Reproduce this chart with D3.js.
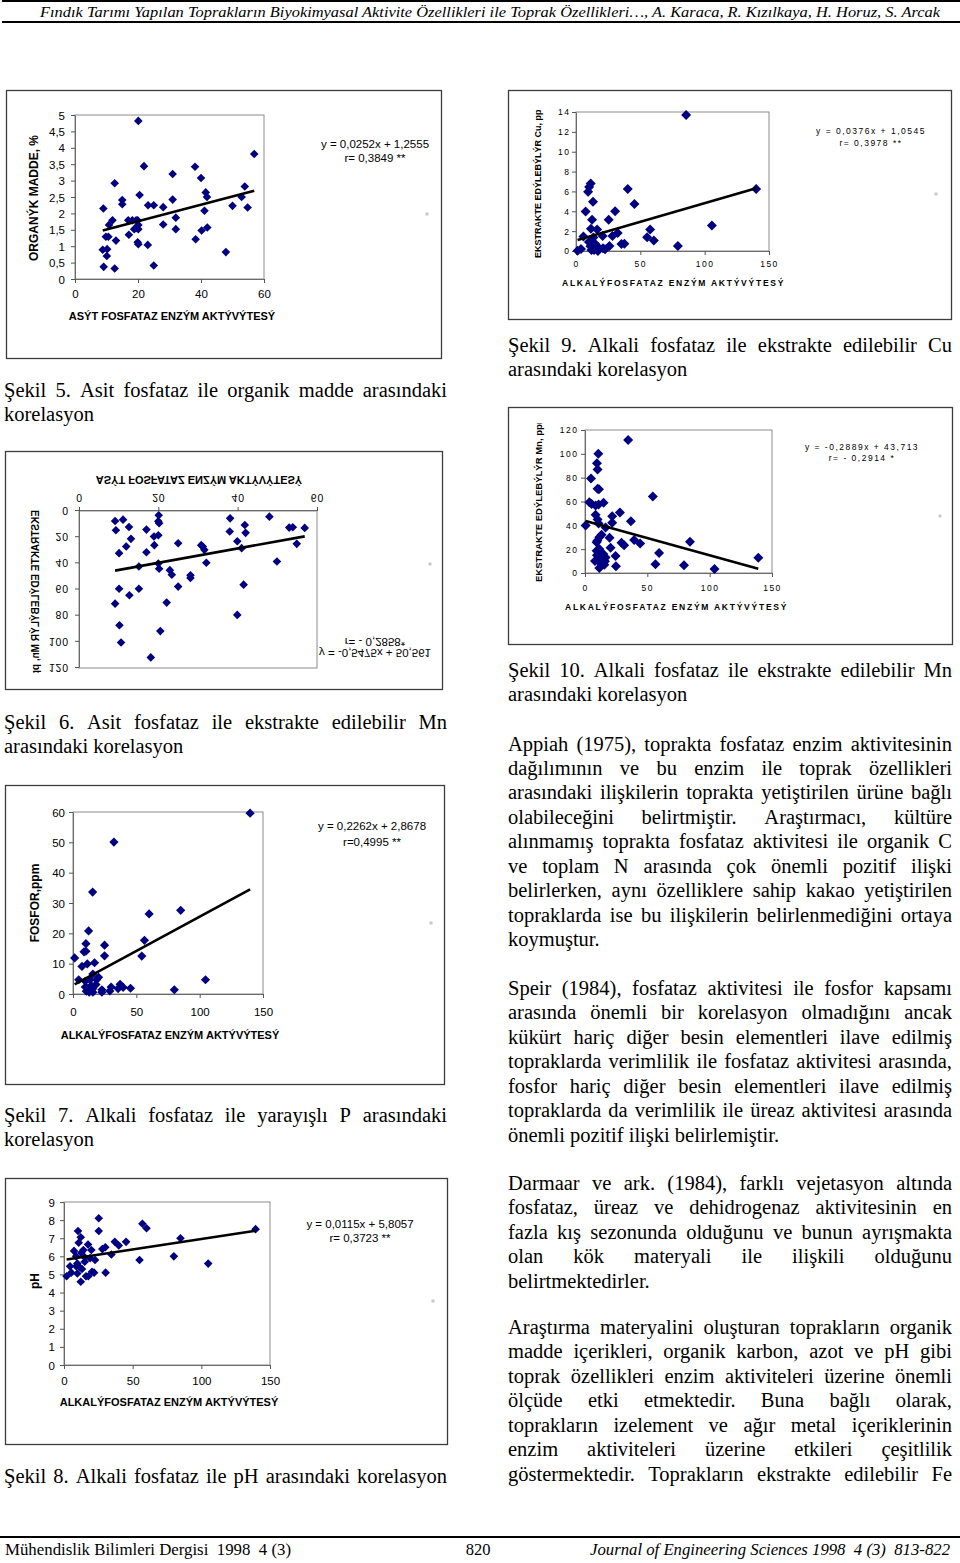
<!DOCTYPE html>
<html><head><meta charset="utf-8">
<script src="https://cdn.jsdelivr.net/npm/d3@7"></script>
<style>body{margin:0;background:#fff}svg{display:block}text{white-space:pre}</style>
</head><body>
<script>
// ---------------- DATA ----------------
const ticksAcidX = [0, 20, 40, 60];
const ticksAlkX = [0, 50, 100, 150];
const ticksOM = [0, 0.5, 1, 1.5, 2, 2.5, 3, 3.5, 4, 4.5, 5];
const labelsOM = ["0", "0,5", "1", "1,5", "2", "2,5", "3", "3,5", "4", "4,5", "5"];
const ticksCu = [0, 2, 4, 6, 8, 10, 12, 14];
const ticksMn = [0, 20, 40, 60, 80, 100, 120];
const ticksP = [0, 10, 20, 30, 40, 50, 60];
const ticksPH = [0, 1, 2, 3, 4, 5, 6, 7, 8, 9];

// Şekil 5: acid phosphatase vs organic matter
const acidOM = [[20.1,4.82],[56.9,3.81],[21.9,3.44],[38.1,3.42],[31.0,3.20],[40.0,3.08],[12.6,2.92],[53.9,2.82],[41.5,2.64],[20.5,2.56],[41.9,2.50],[52.9,2.50],[15.0,2.41],[31.0,2.42],[15.0,2.28],[23.2,2.25],[25.0,2.25],[9.0,2.15],[28.0,2.19],[50.0,2.23],[54.8,2.18],[41.1,2.08],[32.0,1.87],[11.9,1.79],[16.9,1.79],[18.2,1.79],[19.4,1.79],[19.9,1.79],[10.8,1.65],[20.1,1.65],[28.0,1.66],[19.4,1.56],[20.1,1.52],[18.8,1.52],[32.0,1.52],[42.0,1.57],[40.2,1.48],[9.8,1.29],[10.6,1.29],[17.1,1.35],[38.3,1.21],[13.0,1.17],[19.9,1.12],[20.1,1.06],[23.1,1.04],[8.8,0.89],[10.2,0.91],[10.1,0.70],[47.9,0.82],[9.1,0.37],[12.6,0.32],[25.0,0.41]];
// Şekil 9: alkaline phosphatase vs Cu
const alkCu = [[85.6,13.7],[140,6.24],[40.2,6.24],[11.4,6.8],[10.2,6.45],[9.4,5.97],[13.2,4.96],[7.5,3.98],[30.4,4.01],[45.4,4.73],[12.5,3.14],[25.4,3.14],[105.6,2.56],[57.6,2.16],[11.6,2.23],[16.4,2.16],[5.8,1.45],[20.7,1.52],[28.3,1.52],[32.4,1.82],[55.3,1.38],[60.5,1.05],[13.5,1.35],[10.0,0.91],[14.8,0.74],[35.3,0.71],[37.6,0.74],[79.2,0.51],[17.1,0.40],[21.0,0.27],[26.0,0.51],[22.6,0.17],[1.2,0.03],[3.9,0.2],[12,0.1],[14,0.1],[17,0],[15.8,0.4],[11.2,0.47],[12.0,1.0]];
// Şekil 6: acid phosphatase vs Mn
const acidMn = [[9.1,7.6],[11.1,6.6],[20.1,3.3],[20.0,7.9],[20.2,9.4],[12.6,12.2],[17.0,14.2],[9.3,14.7],[18.9,19.5],[20.0,18.5],[13.1,21.3],[25.0,24.6],[19.0,26.1],[11.9,27.1],[10.1,32.2],[17.0,31.5],[38.1,5.6],[41.8,10.7],[48.0,4.3],[38.0,15.7],[42.0,16.7],[53.0,12.7],[53.9,12.4],[56.9,12.9],[39.9,23.1],[54.9,25.1],[41.0,28.4],[30.8,26.1],[31.2,27.1],[31.6,29.7],[32.1,39.6],[49.9,38.6],[20.0,40.1],[20.2,44.1],[15.1,42.4],[22.9,45.2],[23.4,48.7],[28.1,49.2],[28.1,51.2],[25.0,57.8],[41.5,56.3],[10.1,59.4],[15.1,59.4],[12.7,64.4],[9.1,70.8],[22.1,70.0],[39.9,79.4],[10.2,87.3],[20.5,91.8],[10.6,100.5],[18.1,111.9]];
// Şekil 10: alkaline phosphatase vs Mn
const alkMn = [[34.6,111.7],[10.7,100],[9.6,92.1],[10.1,86.8],[4.8,79.3],[10.1,70.6],[11.2,70.3],[54.4,64.2],[3.5,59.4],[5.3,57.8],[8.5,56.7],[10.9,57.5],[14.9,58.9],[28.0,50.8],[21.8,47.7],[8.5,48.8],[10.1,44.9],[21.8,42.1],[36.8,43.5],[0.5,39.9],[10.9,41.6],[16.5,38.2],[13.3,32.1],[11.5,30.1],[19.7,29.6],[39.4,27.6],[9.9,27.0],[84.2,26.2],[9.3,25.9],[29.3,25.4],[31.4,23.2],[44.2,24.8],[11.5,20.1],[20.5,21.2],[9.3,18.7],[59.4,16.7],[14.7,15.9],[9.6,14.8],[24.5,14.2],[16.5,13.1],[12.5,12.0],[8.0,10.0],[10.9,9.8],[16.0,9.8],[139,12.8],[56.5,7.3],[79.4,6.4],[15.5,7.0],[24.8,5.6],[11.5,4.2],[103.9,3.3]];
// Şekil 7: alkaline phosphatase vs P
const alkP = [[139.8,59.6],[32.3,50.1],[15.5,33.6],[60.1,26.4],[85.0,27.6],[12.3,20.8],[56.4,17.7],[10.2,16.6],[24.9,16.1],[1.3,11.9],[8.7,13.9],[10.2,14.1],[54.3,12.5],[24.9,12.6],[17.0,10.3],[11.3,9.9],[7.1,9.1],[104.6,4.7],[80.0,1.4],[15.7,6.6],[20.2,5.5],[18.6,4.7],[4.5,4.7],[9.7,4.2],[13.4,4.7],[9.7,2.3],[14.4,2.8],[18.1,3.1],[30.1,2.3],[37.2,3.2],[39.6,2.2],[45.4,1.9],[35.6,1.8],[22.8,1.4],[29.1,1.0],[10.5,0.9],[12.8,0.6],[15.7,0.6],[22.8,0.6],[15.5,1.7],[11.8,1.9]];
// Şekil 8: alkaline phosphatase vs pH
const alkPH = [[25.3,8.1],[57.1,7.8],[60.1,7.55],[139.5,7.5],[25.3,7.4],[10.2,7.4],[84.8,7.0],[12.2,7.05],[37.0,6.8],[45.2,6.8],[39.9,6.6],[17.5,6.65],[30.1,6.5],[27.9,6.4],[10.7,6.75],[7.3,6.3],[14.1,6.35],[19.9,6.35],[34.5,6.1],[80.0,6.0],[15.1,5.95],[19.0,5.9],[22.6,5.8],[55.0,5.8],[105.0,5.6],[15.1,5.7],[9.7,5.6],[4.4,5.45],[11.4,5.4],[5.3,5.1],[9.7,5.05],[1.9,4.9],[20.4,5.15],[21.9,5.1],[30.3,5.1],[16.0,4.9],[17.7,4.9],[12.2,4.6],[8.9,5.45],[12.6,6.2],[8.8,6.0],[13.1,5.3]];

// regression lines [slope, intercept] and their printed labels
const trendOM = [0.0252, 1.2555];
const trendCu = [0.0376, 1.0545];
const trendAcidMn = [-0.5475, 50.561];
const trendAlkMn = [-0.2889, 43.713];
const trendP = [0.2262, 2.8678];
const trendPH = [0.0115, 5.8057];
const eqOM = ["y = 0,0252x + 1,2555", "r= 0,3849 **"];
const eqCu = ["y = 0,0376x + 1,0545", "r= 0,3978 **"];
const eqAcidMn = ["y = -0,5475x + 50,561", "r= - 0,2858*"];
const eqAlkMn = ["y = -0,2889x + 43,713", "r= - 0,2914 *"];
const eqP = ["y = 0,2262x + 2,8678", "r=0,4995 **"];
const eqPH = ["y = 0,0115x + 5,8057", "r= 0,3723 **"];

// texts
const header = "Fındık Tarımı Yapılan Toprakların Biyokimyasal Aktivite Özellikleri ile Toprak Özellikleri…, A. Karaca, R. Kızılkaya, H. Horuz, S. Arcak";
const footerLeft = "Mühendislik Bilimleri Dergisi  1998  4 (3)";
const footerMid = "820";
const footerRight = "Journal of Engineering Sciences 1998  4 (3)  813-822";
const titleAcid = "ASÝT FOSFATAZ ENZÝM AKTÝVÝTESÝ";
const titleAlk = "ALKALÝFOSFATAZ ENZÝM AKTÝVÝTESÝ";

const capt5 = ["Şekil 5. Asit fosfataz ile organik madde arasındaki", "korelasyon"];
const capt6 = ["Şekil 6. Asit fosfataz ile ekstrakte edilebilir Mn", "arasındaki korelasyon"];
const capt7 = ["Şekil 7. Alkali fosfataz ile yarayışlı P arasındaki", "korelasyon"];
const capt8 = ["Şekil 8. Alkali fosfataz ile pH  arasındaki korelasyon"];
const capt9 = ["Şekil 9. Alkali fosfataz ile ekstrakte edilebilir Cu", "arasındaki korelasyon"];
const capt10 = ["Şekil 10. Alkali fosfataz ile ekstrakte edilebilir Mn", "arasındaki korelasyon"];
const para1 = ["Appiah (1975), toprakta fosfataz enzim aktivitesinin","dağılımının ve bu enzim ile toprak özellikleri","arasındaki ilişkilerin toprakta yetiştirilen ürüne bağlı","olabileceğini belirtmiştir. Araştırmacı, kültüre","alınmamış toprakta fosfataz aktivitesi ile organik C","ve toplam N arasında çok önemli pozitif ilişki","belirlerken, aynı özelliklere sahip kakao yetiştirilen","topraklarda ise bu ilişkilerin belirlenmediğini ortaya","koymuştur."];
const para2 = ["Speir (1984), fosfataz aktivitesi ile fosfor kapsamı","arasında önemli bir korelasyon olmadığını ancak","kükürt hariç diğer besin elementleri ilave edilmiş","topraklarda verimlilik ile fosfataz aktivitesi arasında,","fosfor hariç diğer besin elementleri ilave edilmiş","topraklarda da verimlilik ile üreaz aktivitesi arasında","önemli pozitif ilişki belirlemiştir."];
const para3 = ["Darmaar ve ark. (1984), farklı vejetasyon altında","fosfataz, üreaz ve dehidrogenaz aktivitesinin en","fazla kış sezonunda olduğunu ve bunun ayrışmakta","olan kök materyali ile ilişkili olduğunu","belirtmektedirler."];
const para4 = ["Araştırma materyalini oluşturan toprakların organik","madde içerikleri, organik karbon, azot ve pH gibi","toprak özellikleri enzim aktiviteleri üzerine önemli","ölçüde etki etmektedir. Buna bağlı olarak,","toprakların izelement ve ağır metal içeriklerinin","enzim aktiviteleri üzerine etkileri çeşitlilik","göstermektedir. Toprakların ekstrakte edilebilir Fe"];

// ---------------- DRAWING ----------------
const SANS = "'Liberation Sans', Arial, sans-serif";
const SERIF = "'Liberation Serif', 'Times New Roman', serif";
const svg = d3.select("body").append("svg").attr("width", 960).attr("height", 1563);
svg.append("rect").attr("width", 960).attr("height", 1563).attr("fill", "#fff");

// header / footer
svg.append("line").attr("x1", 2).attr("x2", 960).attr("y1", 1).attr("y2", 1).attr("stroke", "#000").attr("stroke-width", 2);
svg.append("line").attr("x1", 2).attr("x2", 960).attr("y1", 22).attr("y2", 22).attr("stroke", "#000").attr("stroke-width", 2);
svg.append("text").attr("x", 40).attr("y", 17).attr("font-family", SERIF).attr("font-style", "italic")
  .attr("font-size", 15.5).attr("textLength", 900).attr("lengthAdjust", "spacingAndGlyphs").text(header);
svg.append("line").attr("x1", 0).attr("x2", 960).attr("y1", 1537).attr("y2", 1537).attr("stroke", "#000").attr("stroke-width", 2);
svg.append("text").attr("x", 5).attr("y", 1555).attr("font-family", SERIF).attr("font-size", 16.5)
  .attr("textLength", 286).attr("lengthAdjust", "spacingAndGlyphs").text(footerLeft);
svg.append("text").attr("x", 478).attr("y", 1555).attr("font-family", SERIF).attr("font-size", 16.5)
  .attr("text-anchor", "middle").text(footerMid);
svg.append("text").attr("x", 590).attr("y", 1555).attr("font-family", SERIF).attr("font-style", "italic").attr("font-size", 16.5)
  .attr("textLength", 360).attr("lengthAdjust", "spacingAndGlyphs").text(footerRight);

// justified text lines
const BODY_FS = 20.5;
function textBlock(lines, x0, x1, baseline0, lastJustified) {
  const g = svg.append("g").attr("font-family", SERIF).attr("font-size", BODY_FS).attr("fill", "#000");
  lines.forEach((ln, i) => {
    const yb = baseline0 + i * 24.45;
    const justify = i < lines.length - 1 || lastJustified;
    if (!justify) { g.append("text").attr("x", x0).attr("y", yb).text(ln); return; }
    const words = ln.split(/ +/);
    const nodes = words.map(w => g.append("text").attr("y", yb).text(w));
    const widths = nodes.map(n => n.node().getComputedTextLength());
    const gap = (x1 - x0 - d3.sum(widths)) / Math.max(1, words.length - 1);
    let x = x0;
    nodes.forEach((n, k) => { n.attr("x", x); x += widths[k] + gap; });
  });
}
textBlock(capt5, 4, 447, 397, false);
textBlock(capt6, 4, 447, 729, false);
textBlock(capt7, 4, 447, 1122, false);
textBlock(capt8, 4, 447, 1483, true);
textBlock(capt9, 508, 952, 352, false);
textBlock(capt10, 508, 952, 677, false);
textBlock(para1, 508, 952, 750.5, false);
textBlock(para2, 508, 952, 995, false);
textBlock(para3, 508, 952, 1190, false);
textBlock(para4, 508, 952, 1334, true);

let clipId = 0;
function drawChart(c) {
  const root = svg.append("g");
  if (c.flipAbout) root.attr("transform", `translate(0,${2 * c.flipAbout}) scale(1,-1)`);
  const [fx0, fy0, fx1, fy1] = c.frame;
  root.append("rect").attr("x", fx0 + 0.5).attr("y", fy0 + 0.5).attr("width", fx1 - fx0).attr("height", fy1 - fy0)
    .attr("fill", "#fff").attr("stroke", "#3c3c3c").attr("stroke-width", 1.3);
  const [px0, py0, px1, py1] = c.plot;
  const x = d3.scaleLinear().domain(c.xDomain).range([px0, px1]);
  const y = d3.scaleLinear().domain(c.yDomain).range([py1, py0]);
  root.append("rect").attr("x", px0).attr("y", py0).attr("width", px1 - px0).attr("height", py1 - py0)
    .attr("fill", "none").attr("stroke", "#8c8c8c").attr("stroke-width", 1);

  const ya = root.append("g").attr("transform", `translate(${px0},0)`)
    .call(d3.axisLeft(y).tickValues(c.yTicks).tickFormat((d, i) => c.yLabels ? c.yLabels[i] : String(d)).tickSize(4).tickSizeOuter(0));
  const xa = root.append("g").attr("transform", `translate(0,${py1})`)
    .call(d3.axisBottom(x).tickValues(c.xTicks).tickFormat(d => String(d)).tickSize(4).tickSizeOuter(0));
  [ya, xa].forEach(a => {
    a.select(".domain").attr("stroke", "#6a6a6a");
    a.selectAll(".tick line").attr("stroke", "#555");
    a.selectAll("text").attr("font-family", SANS).attr("font-size", c.fs).attr("letter-spacing", c.ls).attr("fill", "#000");
  });
  ya.selectAll("text").attr("x", c.yLabelRight - px0 + c.ls).attr("dy", "0.35em");
  xa.selectAll("text").attr("y", c.xLabelY - py1).attr("dy", "0.35em");

  // points
  const r = c.r;
  root.append("g").selectAll("path").data(c.data).join("path")
    .attr("d", `M0,${-r}L${r},0L0,${r}L${-r},0Z`)
    .attr("transform", d => `translate(${x(d[0])},${y(d[1])})`)
    .attr("fill", "#000080");
  // trend line
  const ext = d3.extent(c.data, d => d[0]);
  const [m, b] = c.trend;
  root.append("line").attr("x1", x(ext[0])).attr("y1", y(m * ext[0] + b))
    .attr("x2", x(ext[1])).attr("y2", y(m * ext[1] + b))
    .attr("stroke", "#000").attr("stroke-width", 2.6);

  // axis titles
  root.append("text").attr("x", c.xTitle.x).attr("y", c.xTitle.y).attr("dy", "0.35em")
    .attr("text-anchor", c.xTitle.anchor).attr("font-family", SANS).attr("font-weight", "bold")
    .attr("font-size", c.xTitle.fs).attr("letter-spacing", c.xTitle.ls).text(c.xTitle.text);
  let yt = root;
  if (c.yTitle.clipTop !== undefined) {
    const id = "clip" + (clipId++);
    root.append("clipPath").attr("id", id).append("rect")
      .attr("x", fx0).attr("y", c.yTitle.clipTop).attr("width", 60).attr("height", fy1 - c.yTitle.clipTop);
    yt = root.append("g").attr("clip-path", `url(#${id})`);
  }
  yt.append("text").attr("transform", `translate(${c.yTitle.x},${c.yTitle.y}) rotate(-90)`).attr("dy", "0.35em")
    .attr("text-anchor", c.yTitle.anchor).attr("font-family", SANS).attr("font-weight", "bold")
    .attr("font-size", c.yTitle.fs).text(c.yTitle.text);

  // equation
  c.eqText.forEach((t, i) => {
    root.append("text").attr("x", c.eq.x).attr("y", c.eq.y[i]).attr("dy", "0.35em").attr("text-anchor", "middle")
      .attr("font-family", SANS).attr("font-size", c.eq.fs).attr("letter-spacing", c.eq.ls).text(t);
  });
  // small legend remnant
  root.append("rect").attr("x", c.mark[0] - 1.5).attr("y", c.mark[1] - 1.5).attr("width", 3).attr("height", 3).attr("fill", "#c8c8c8");
}

drawChart({ data: acidOM, trend: trendOM, eqText: eqOM,
  frame: [6, 90, 441, 358], plot: [75, 115, 264, 279], xDomain: [0, 60], yDomain: [0, 5],
  xTicks: ticksAcidX, yTicks: ticksOM, yLabels: labelsOM, fs: 11.5, ls: 0, yLabelRight: 65, xLabelY: 294,
  xTitle: { text: titleAcid, x: 172, y: 316, anchor: "middle", fs: 11, ls: 0 },
  yTitle: { text: "ORGANÝK MADDE, %", x: 34, y: 198, anchor: "middle", fs: 12 },
  eq: { x: 375, y: [144, 158], fs: 11.5, ls: 0 }, mark: [427, 214], r: 4.3 });

drawChart({ data: alkCu, trend: trendCu, eqText: eqCu,
  frame: [508, 90, 951, 319], plot: [576, 112, 769, 251], xDomain: [0, 150], yDomain: [0, 14],
  xTicks: ticksAlkX, yTicks: ticksCu, fs: 8.5, ls: 1.5, yLabelRight: 569, xLabelY: 264,
  xTitle: { text: titleAlk, x: 562, y: 283, anchor: "start", fs: 8.5, ls: 1.75 },
  yTitle: { text: "EKSTRAKTE EDÝLEBÝLÝR Cu, ppm", x: 538, y: 258, anchor: "start", fs: 9, clipTop: 109 },
  eq: { x: 871, y: [131, 143], fs: 8.5, ls: 1.5 }, mark: [936, 194], r: 5 });

drawChart({ data: acidMn, trend: trendAcidMn, eqText: eqAcidMn, flipAbout: 571,
  frame: [5, 452, 442, 690], plot: [79, 474, 317, 631], xDomain: [0, 60], yDomain: [0, 120],
  xTicks: ticksAcidX, yTicks: ticksMn, fs: 10.5, ls: 0.8, yLabelRight: 68, xLabelY: 644,
  xTitle: { text: titleAcid, x: 199, y: 662, anchor: "middle", fs: 11, ls: 0 },
  yTitle: { text: "EKSTRAKTE EDÝLEBÝLÝR Mn, ppm", x: 35, y: 632, anchor: "start", fs: 10, clipTop: 469 },
  eq: { x: 375, y: [489, 499.5], fs: 11.5, ls: 0 }, mark: [430, 578], r: 4.3 });

drawChart({ data: alkMn, trend: trendAlkMn, eqText: eqAlkMn,
  frame: [508, 407, 952, 644], plot: [585, 430, 772, 573], xDomain: [0, 150], yDomain: [0, 120],
  xTicks: ticksAlkX, yTicks: ticksMn, fs: 8.5, ls: 1.5, yLabelRight: 577, xLabelY: 588,
  xTitle: { text: titleAlk, x: 565, y: 607, anchor: "start", fs: 8.5, ls: 1.75 },
  yTitle: { text: "EKSTRAKTE EDÝLEBÝLÝR Mn, ppm", x: 539, y: 582, anchor: "start", fs: 9.5, clipTop: 423 },
  eq: { x: 862, y: [447, 458], fs: 8.5, ls: 1.5 }, mark: [940, 516], r: 5 });

drawChart({ data: alkP, trend: trendP, eqText: eqP,
  frame: [5, 785, 444, 1084], plot: [73, 812, 263, 994], xDomain: [0, 150], yDomain: [0, 60],
  xTicks: ticksAlkX, yTicks: ticksP, fs: 11.5, ls: 0, yLabelRight: 65, xLabelY: 1012,
  xTitle: { text: titleAlk, x: 170, y: 1035, anchor: "middle", fs: 11, ls: 0 },
  yTitle: { text: "FOSFOR,ppm", x: 35, y: 903, anchor: "middle", fs: 12 },
  eq: { x: 372, y: [826, 842], fs: 11.5, ls: 0 }, mark: [431, 923], r: 4.6 });

drawChart({ data: alkPH, trend: trendPH, eqText: eqPH,
  frame: [5, 1178, 447, 1444], plot: [64, 1202, 270, 1365], xDomain: [0, 150], yDomain: [0, 9],
  xTicks: ticksAlkX, yTicks: ticksPH, fs: 11.5, ls: 0, yLabelRight: 55, xLabelY: 1381,
  xTitle: { text: titleAlk, x: 169, y: 1402, anchor: "middle", fs: 11, ls: 0 },
  yTitle: { text: "pH", x: 35, y: 1281, anchor: "middle", fs: 12 },
  eq: { x: 360, y: [1224, 1238], fs: 11.5, ls: 0 }, mark: [433, 1301], r: 4.3 });
</script>
</body></html>
